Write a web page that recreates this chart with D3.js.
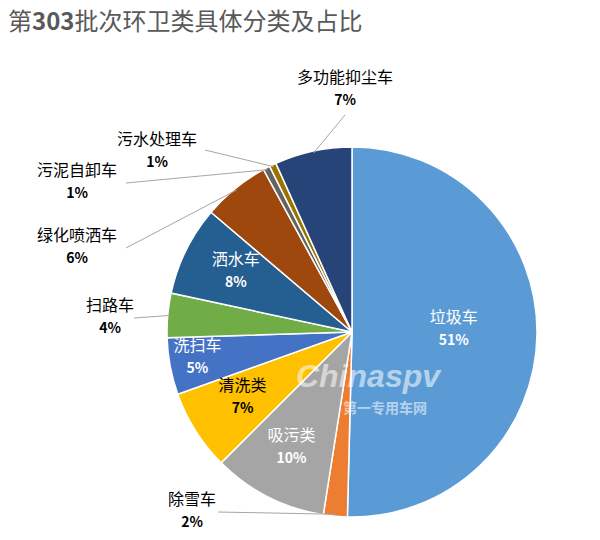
<!DOCTYPE html>
<html><head><meta charset="utf-8">
<script src="https://cdn.jsdelivr.net/npm/d3@7"></script>
<style>body{margin:0;background:#fff}</style>
</head><body><div id="chart"></div>
<script>
const categories = ["垃圾车","除雪车","吸污类","清洗类","洗扫车","扫路车","洒水车","绿化喷洒车","污泥自卸车","污水处理车","多功能抑尘车"];
const values = [50.8,2.1,10.1,7.1,5.0,3.9,7.9,5.9,0.6,0.6,6.8];
const pctLabels = ["51%","2%","10%","7%","5%","4%","8%","6%","1%","1%","7%"];
const colors = ["#5b9bd5","#ed7d31","#a5a5a5","#ffc000","#4472c4","#70ad47","#255e91","#9e480e","#636363","#997300","#264478"];
// label placement: inside slices (centroid) or outside at fixed spot with leader line
const labelLayout = [
  {inside:true, fill:"#fff", r:0.55},
  {x:192, y:505, line:[218,512]},
  {inside:true, fill:"#fff", r:0.72},
  {inside:true, fill:"#000", r:0.7},
  {inside:true, fill:"#fff", r:0.85},
  {x:110, y:311, line:[134,318]},
  {inside:true, fill:"#fff", r:0.7},
  {x:77, y:241, line:[126,248]},
  {x:77, y:176, line:[126,183]},
  {x:157, y:145, line:[205,150]},
  {x:345, y:83, line:[345,115]}
];

const W = 600, H = 540, cx = 352, cy = 332, R = 185;
const svg = d3.select("#chart").append("svg").attr("width", W).attr("height", H)
  .style("font-family", "'Noto Sans CJK SC', sans-serif");

svg.append("text").attr("x", 8).attr("y", 30).attr("fill", "#595959")
  .attr("font-size", 24)
  .call(t => {
    t.append("tspan").text("第");
    t.append("tspan").attr("font-weight", "bold").text("303");
    t.append("tspan").text("批次环卫类具体分类及占比");
  });

const data = categories.map((c, i) => ({name: c, value: values[i], pct: pctLabels[i], color: colors[i], lay: labelLayout[i]}));
const pie = d3.pie().sort(null).value(d => d.value);
const arc = d3.arc().innerRadius(0).outerRadius(R);
const arcs = pie(data);

const g = svg.append("g").attr("transform", `translate(${cx},${cy})`);
g.selectAll("path").data(arcs).join("path")
  .attr("d", arc).attr("fill", d => d.data.color)
  .attr("stroke", "#fff").attr("stroke-width", 1.5);

svg.append("text").attr("x", 368).attr("y", 387).attr("text-anchor", "middle")
  .attr("font-size", 32).attr("font-style", "italic").attr("font-weight", "bold")
  .attr("fill", "#fff").attr("opacity", 0.55).attr("font-family", "Arial").text("Chinaspv");
svg.append("text").attr("x", 385).attr("y", 413).attr("text-anchor", "middle")
  .attr("font-size", 14).attr("font-weight", "bold")
  .attr("fill", "#fff").attr("opacity", 0.55).text("第一专用车网");

arcs.forEach(a => {
  const L = a.data.lay;
  let x, y, fill = "#000";
  if (L.inside) {
    const c = d3.arc().innerRadius(R * L.r).outerRadius(R * L.r).centroid(a);
    x = cx + c[0]; y = cy + c[1] - 10; fill = L.fill;
  } else {
    x = L.x; y = L.y;
    const mid = (a.startAngle + a.endAngle) / 2;
    svg.append("polyline")
      .attr("points", [[L.line[0], L.line[1]], [cx + Math.sin(mid) * (R - 2), cy - Math.cos(mid) * (R - 2)]].join(" "))
      .attr("fill", "none").attr("stroke", "#a6a6a6").attr("stroke-width", 1);
  }
  const t = svg.append("text").attr("text-anchor", "middle").attr("fill", fill).attr("font-size", 16);
  t.append("tspan").attr("x", x).attr("y", y).text(a.data.name);
  t.append("tspan").attr("x", x).attr("y", y + 22).attr("font-weight", "bold").attr("font-size", 14).text(a.data.pct);
});
</script></body></html>
